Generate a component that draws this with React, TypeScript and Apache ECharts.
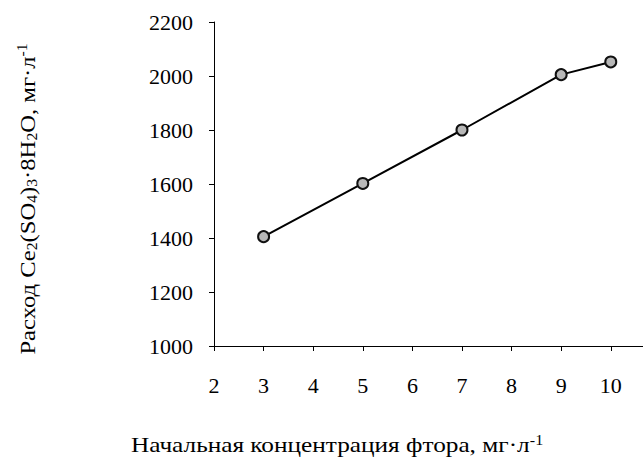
import React, { useEffect, useRef } from "react";
import * as echarts from "echarts";

const xValues = [3, 5, 7, 9, 10];
const yValues = [1405, 1602, 1800, 2005, 2052];
const xTicks = [2, 3, 4, 5, 6, 7, 8, 9, 10];
const yMin = 1000;
const yMax = 2200;
const yStep = 200;

const FONT = "'Liberation Serif', 'Times New Roman', serif";

export default function App() {
  const ref = useRef<HTMLDivElement>(null);
  useEffect(() => {
    if (!ref.current) return;
    const chart = echarts.init(ref.current, undefined, { renderer: "svg" });
    const rich = {
      n: { fontFamily: FONT, fontSize: 22, color: "#000" },
      sub: { fontFamily: FONT, fontSize: 14, color: "#000", padding: [10, 0, 0, 0] },
      sup: { fontFamily: FONT, fontSize: 14, color: "#000", padding: [0, 0, 10, 0] },
    };
    chart.setOption({
      animation: false,
      backgroundColor: "#fff",
      grid: { left: 214, top: 22, right: 0, bottom: 114, containLabel: false },
      xAxis: {
        type: "value",
        min: 2,
        max: 10.65,
        interval: 1,
        axisLine: { show: true, lineStyle: { color: "#000", width: 1 } },
        axisTick: { show: true, inside: false, length: 5, customValues: xTicks, lineStyle: { color: "#000" } },
        axisLabel: {
          customValues: xTicks,
          margin: 28,
          fontFamily: FONT,
          fontSize: 22,
          color: "#000",
          formatter: (v: number) => String(v),
        },
        splitLine: { show: false },
      },
      yAxis: {
        type: "value",
        min: yMin,
        max: yMax,
        interval: yStep,
        axisLine: { show: true, lineStyle: { color: "#000", width: 1 } },
        axisTick: { show: true, inside: false, length: 5, lineStyle: { color: "#000" } },
        axisLabel: {
          margin: 21,
          fontFamily: FONT,
          fontSize: 22,
          color: "#000",
          formatter: (v: number) => String(v),
        },
        splitLine: { show: false },
      },
      graphic: [
        {
          type: "text",
          x: 337,
          y: 445,
          scaleX: 1.15,
          style: {
            text: "{n|Начальная концентрация фтора, мг·л}{sup|-1}",
            rich,
            align: "center",
            verticalAlign: "middle",
          },
        },
        {
          type: "text",
          x: 27,
          y: 199,
          rotation: Math.PI / 2,
          scaleX: 1.12,
          style: {
            text:
              "{n|Расход Ce}{sub|2}{n|(SO}{sub|4}{n|)}{sub|3}{n|·8H}{sub|2}{n|O, мг·л}{sup|-1}",
            rich,
            align: "center",
            verticalAlign: "middle",
          },
        },
      ],
      series: [
        {
          type: "line",
          data: xValues.map((x, i) => [x, yValues[i]]),
          symbol: "circle",
          symbolSize: 11,
          lineStyle: { color: "#000", width: 2 },
          itemStyle: { color: "#b8b8b8", borderColor: "#111", borderWidth: 2 },
        },
      ],
    });
    return () => chart.dispose();
  }, []);
  return (
    <div
      ref={ref}
      style={{ position: "absolute", left: 0, top: 0, width: 643, height: 460 }}
    />
  );
}
